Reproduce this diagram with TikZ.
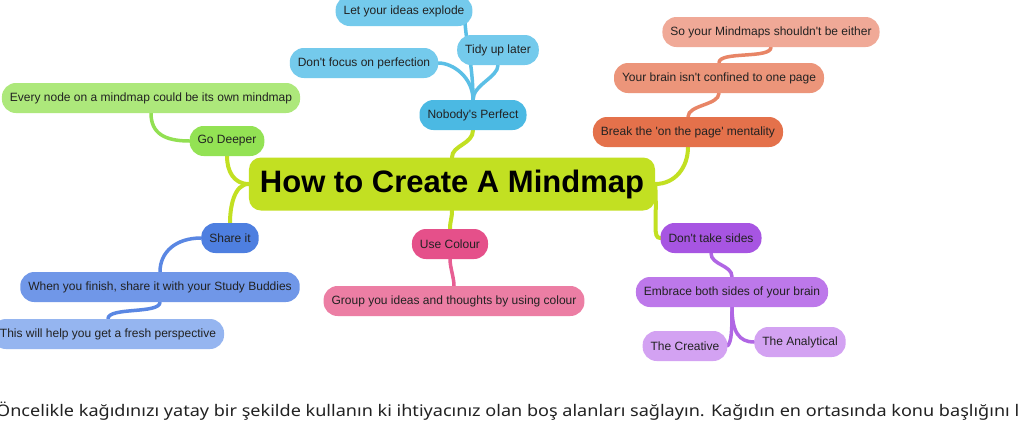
\documentclass[tikz,border=0pt]{standalone}
\usepackage{fontspec}
\usepackage{graphicx}
\setmainfont{Liberation Sans}
\newfontfamily\turkfont{Noto Sans}
\usetikzlibrary{backgrounds}
\newcommand{\myq}{\textquotesingle}
\definecolor{limec}{HTML}{C2E022}
\definecolor{npblue}{HTML}{4BB9E3}
\definecolor{ltblue}{HTML}{74CAEC}
\definecolor{blcon}{HTML}{5BBFE6}
\definecolor{orA}{HTML}{E4714B}
\definecolor{orB}{HTML}{EC957A}
\definecolor{orC}{HTML}{F0A997}
\definecolor{orcon}{HTML}{E88566}
\definecolor{grA}{HTML}{93E254}
\definecolor{grB}{HTML}{ADE87B}
\definecolor{grcon}{HTML}{92E052}
\definecolor{bbA}{HTML}{4E7FE0}
\definecolor{bbB}{HTML}{7097E8}
\definecolor{bbC}{HTML}{95B5F0}
\definecolor{bbcon}{HTML}{5A87E3}
\definecolor{pkA}{HTML}{E5508A}
\definecolor{pkB}{HTML}{EC7EA4}
\definecolor{pkcon}{HTML}{E75E93}
\definecolor{puA}{HTML}{A755E2}
\definecolor{puB}{HTML}{BD78EA}
\definecolor{puC}{HTML}{D3A2F2}
\definecolor{pucon}{HTML}{B066E4}
\definecolor{txt}{HTML}{222222}
\begin{document}
\begin{tikzpicture}[x=1pt,y=-1pt,
  mm/.style={rounded corners=14pt, minimum height=30pt, inner xsep=8pt, inner ysep=0pt,
    text=txt, font=\fontsize{12}{14}\selectfont},
  con/.style={line width=3.5pt, line cap=round},
  maincon/.style={line width=4pt, line cap=round, draw=limec},
]
\useasboundingbox (0,0) rectangle (1021,424);
\clip (0,0) rectangle (1021,424);

% central
\node[fill=limec, rounded corners=12pt, minimum height=53pt, minimum width=405pt, inner xsep=11pt,
  font=\bfseries\fontsize{31}{34}\selectfont, text=black] (C) at (452,184) {How to Create A Mindmap};

% blue branch
\node[mm, fill=npblue] (NP) at (473,115) {Nobody\myq s Perfect};
\node[mm, fill=ltblue] (DF) at (364,63) {Don\myq t focus on perfection};
\node[mm, fill=ltblue] (TU) at (498,50) {Tidy up later};
\node[mm, fill=ltblue] (LE) at (404,11) {Let your ideas explode};

% orange branch
\node[mm, fill=orA] (BR) at (688,132) {Break the \myq on the page\myq\ mentality};
\node[mm, fill=orB] (YB) at (719,78) {Your brain isn\myq t confined to one page};
\node[mm, fill=orC] (SY) at (771,32) {So your Mindmaps shouldn\myq t be either};

% green branch
\node[mm, fill=grA] (GD) at (227,141) {Go Deeper};
\node[mm, fill=grB] (EV) at (151,98) {Every node on a mindmap could be its own mindmap};

% dark blue branch
\node[mm, fill=bbA] (SH) at (230,238) {Share it};
\node[mm, fill=bbB] (WY) at (160,287) {When you finish, share it with your Study Buddies};
\node[mm, fill=bbC] (TH) at (108,334) {This will help you get a fresh perspective};

% pink branch
\node[mm, fill=pkA] (UC) at (450,244) {Use Colour};
\node[mm, fill=pkB] (GR) at (454,301) {Group you ideas and thoughts by using colour};

% purple branch
\node[mm, fill=puA] (DT) at (711,238) {Don\myq t take sides};
\node[mm, fill=puB] (EM) at (732,292) {Embrace both sides of your brain};
\node[mm, fill=puC] (CR) at (685,346) {The Creative};
\node[mm, fill=puC] (AN) at (800,342) {The Analytical};

% bottom text (cut off at both edges, as in the reference)
\node[anchor=base west, inner sep=0pt, text=txt, font=\turkfont\fontsize{16}{19}\selectfont] (T) at (-4,416)
  {\resizebox{1023pt}{\height}{Öncelikle kağıdınızı yatay bir şekilde kullanın ki ihtiyacınız olan boş alanları sağlayın. Kağıdın en ortasında konu başlığını l}};

\begin{scope}[on background layer]
\fill[white] (-10,-10) rectangle (1031,434);
% main connectors
\draw[maincon] (C.north) .. controls +(0,-12) and +(0,14) .. (NP.south);
\draw[maincon] (C.east) .. controls +(20,0) and +(0,20) .. (BR.south);
\draw[maincon] (C.east) .. controls +(2,40) and +(-8,0) .. (DT.west);
\draw[maincon] (C.west) .. controls +(-15,0) and +(0,15) .. (GD.south);
\draw[maincon] (C.west) .. controls +(-15,0) and +(0,-15) .. (SH.north);
\draw[maincon] (C.south) .. controls +(0,8) and +(0,-8) .. (UC.north);
% blue
\draw[con, blcon] (NP.north) .. controls +(0,-40) and +(0,30) .. ([xshift=-8pt]LE.east);
\draw[con, blcon] (NP.north) .. controls +(0,-15) and +(0,12) .. (TU.south);
\draw[con, blcon] (NP.north) .. controls +(0,-22) and +(15,0) .. (DF.east);
% orange
\draw[con, orcon] (BR.north) .. controls +(0,-12) and +(0,12) .. (YB.south);
\draw[con, orcon] (YB.north) .. controls +(0,-12) and +(0,12) .. (SY.south);
% green
\draw[con, grcon] (GD.west) .. controls +(-25,0) and +(0,20) .. (EV.south);
% dark blue
\draw[con, bbcon] (SH.west) .. controls +(-25,0) and +(0,-20) .. (WY.north);
\draw[con, bbcon] (WY.south) .. controls +(0,12) and +(0,-12) .. (TH.north);
% pink
\draw[con, pkcon] (UC.south) .. controls +(0,8) and +(0,-8) .. (GR.north);
% purple
\draw[con, pucon] (DT.south) .. controls +(0,12) and +(0,-12) .. (EM.north);
\draw[con, pucon] (EM.south) .. controls +(0,25) and +(4,-5) .. (CR.east);
\draw[con, pucon] (EM.south) .. controls +(0,25) and +(-15,0) .. (AN.west);
\end{scope}
\end{tikzpicture}
\end{document}
